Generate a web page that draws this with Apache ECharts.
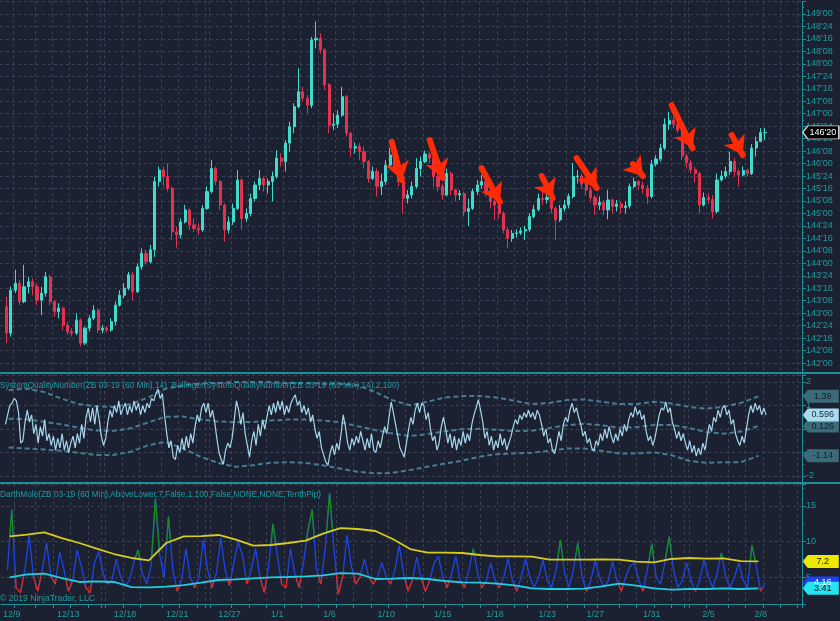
<!DOCTYPE html>
<html><head><meta charset="utf-8">
<script src="https://cdn.jsdelivr.net/npm/echarts@6/dist/echarts.min.js"></script>
<style>html,body{margin:0;padding:0;background:#1c2132;}#c{width:840px;height:621px;}</style>
</head><body><div id="c"></div>
<script>
// ---------- DATA ----------
const CAT_COUNT = 184;        // category slots along the time axis (6-hour bars)
const FIRST_BAR = 1;          // first slot holding a bar
const barOpen = [
143.13,142.60,143.46,143.60,143.23,143.53,143.63,143.53,143.26,143.40,
143.73,143.23,143.03,143.10,142.76,142.63,142.60,142.86,142.40,142.70,
142.90,143.06,142.66,142.70,142.66,142.83,143.16,143.36,143.50,143.77,
143.43,143.93,144.20,144.03,144.27,145.64,145.87,145.74,145.50,144.63,
144.57,144.83,145.07,144.77,144.70,144.67,145.10,145.44,145.90,145.64,
145.17,144.67,144.83,145.10,145.67,144.90,145.00,145.30,145.57,145.70,
145.57,145.64,145.74,146.11,146.04,146.41,146.74,147.14,147.44,147.31,
147.17,148.48,148.51,148.28,147.58,146.77,146.79,146.97,147.34,146.61,
146.31,146.34,146.24,146.04,145.70,145.84,145.54,145.64,145.97,146.17,
145.94,145.64,145.30,145.37,145.54,145.90,146.04,146.19,146.11,145.74,
145.54,145.37,145.80,145.47,145.37,145.40,145.04,145.10,145.44,145.57,
145.64,145.44,145.24,145.17,145.00,144.67,144.50,144.60,144.61,144.65,
144.68,144.94,145.08,145.30,145.28,145.32,145.10,144.87,145.10,145.17,
145.34,145.74,145.75,145.59,145.47,145.32,145.17,145.22,145.07,145.27,
145.14,145.19,145.12,145.15,145.54,145.64,145.57,145.50,145.34,145.99,
146.09,146.31,146.79,146.87,146.79,146.67,146.15,146.02,145.88,145.80,
145.17,145.32,145.28,145.04,145.67,145.75,145.84,146.04,145.84,145.77,
145.86,145.80,146.31,146.44,146.62];
const barClose = [
142.60,143.46,143.60,143.23,143.53,143.63,143.53,143.26,143.40,143.73,
143.23,143.03,143.10,142.76,142.63,142.60,142.86,142.40,142.70,142.90,
143.06,142.66,142.70,142.66,142.83,143.16,143.36,143.50,143.77,143.43,
143.93,144.20,144.03,144.27,145.64,145.87,145.74,145.50,144.63,144.57,
144.83,145.07,144.77,144.70,144.67,145.10,145.44,145.90,145.64,145.17,
144.67,144.83,145.10,145.67,144.90,145.00,145.30,145.57,145.70,145.57,
145.64,145.74,146.11,146.04,146.41,146.74,147.14,147.44,147.31,147.17,
148.48,148.51,148.28,147.58,146.77,146.79,146.97,147.34,146.61,146.31,
146.34,146.24,146.04,145.70,145.84,145.54,145.64,145.97,146.17,145.94,
145.64,145.30,145.37,145.54,145.90,146.04,146.19,146.11,145.74,145.54,
145.37,145.80,145.47,145.37,145.40,145.04,145.10,145.44,145.57,145.64,
145.44,145.24,145.17,145.00,144.67,144.50,144.60,144.61,144.65,144.68,
144.94,145.08,145.30,145.28,145.32,145.10,144.87,145.10,145.17,145.34,
145.74,145.75,145.59,145.47,145.32,145.17,145.22,145.07,145.27,145.14,
145.19,145.12,145.15,145.54,145.64,145.57,145.50,145.34,145.99,146.09,
146.31,146.79,146.87,146.79,146.67,146.15,146.02,145.88,145.80,145.17,
145.32,145.28,145.04,145.67,145.75,145.84,146.04,145.84,145.77,145.86,
145.80,146.31,146.44,146.62,146.625];
const barHigh = [
143.33,143.53,143.87,143.67,143.97,143.73,143.70,143.60,143.53,143.83,
143.77,143.26,143.20,143.13,142.83,142.70,143.00,142.90,142.73,142.96,
143.16,143.10,142.76,142.74,142.90,143.23,143.46,143.60,143.83,143.83,
144.00,144.30,144.27,144.37,145.74,145.94,145.94,146.01,145.54,144.73,
144.90,145.17,145.10,144.90,144.80,145.17,145.54,146.07,145.94,145.67,
145.20,144.94,145.20,145.87,145.70,145.10,145.40,145.64,145.87,145.74,
145.70,145.84,146.27,146.21,146.47,146.84,147.21,147.91,147.54,147.38,
148.54,148.85,148.61,148.31,147.61,147.01,147.07,147.54,147.38,146.63,
146.42,146.41,146.34,146.07,145.94,145.90,145.80,146.07,146.31,146.24,
146.01,145.67,145.47,145.64,146.11,146.14,146.26,146.24,146.14,145.80,
145.60,145.90,145.84,145.50,145.47,145.44,145.30,145.50,145.67,145.77,
145.67,145.47,145.28,145.24,145.04,144.73,144.67,144.68,144.72,144.75,
145.00,145.17,145.40,145.44,145.40,145.37,145.14,145.17,145.27,145.40,
146.01,145.87,145.80,145.64,145.54,145.37,145.34,145.27,145.47,145.30,
145.27,145.24,145.24,145.60,145.72,145.67,145.64,145.57,146.07,146.17,
146.39,146.91,147.04,146.94,146.87,146.71,146.20,146.07,145.94,145.84,
145.42,145.40,145.37,145.80,145.86,145.94,146.24,146.11,145.90,145.94,
145.90,146.39,146.54,146.71,146.71];
const barLow = [
142.40,142.53,143.40,143.16,143.20,143.40,143.36,143.16,142.96,143.33,
143.16,142.93,142.90,142.66,142.56,142.53,142.56,142.33,142.36,142.63,
142.86,142.60,142.60,142.61,142.63,142.76,143.13,143.30,143.46,143.26,
143.40,143.87,143.97,144.00,144.13,145.54,145.54,145.44,144.47,144.30,
144.50,144.80,144.67,144.63,144.57,144.63,145.07,145.40,145.57,145.07,
144.43,144.60,144.77,145.07,144.67,144.83,144.94,145.24,145.47,145.44,
145.40,145.24,145.70,145.94,145.84,146.24,146.61,147.11,147.24,147.01,
147.11,148.31,148.21,147.48,146.61,146.67,146.71,146.94,146.54,146.14,
146.21,146.07,145.90,145.62,145.67,145.34,145.37,145.57,145.90,145.87,
145.54,145.00,145.20,145.30,145.50,145.74,146.01,146.01,145.54,145.44,
145.27,145.34,145.37,145.24,145.27,144.94,144.75,145.07,145.37,145.50,
145.34,145.10,144.87,144.90,144.60,144.30,144.43,144.52,144.57,144.47,
144.63,144.90,145.04,145.17,145.20,145.00,144.47,144.83,145.04,145.10,
145.30,145.60,145.50,145.37,145.24,144.97,145.07,144.97,144.88,145.00,
145.04,145.00,145.00,145.10,145.50,145.47,145.40,145.19,145.30,145.94,
146.04,146.27,146.67,146.71,146.61,146.07,145.90,145.80,145.62,145.00,
145.14,145.19,144.90,145.00,145.64,145.70,145.77,145.74,145.54,145.74,
145.74,145.77,146.14,146.47,146.47];

const dateLabels   = ['12/9','12/13','12/18','12/21','12/27','1/1','1/6','1/10','1/15','1/18','1/23','1/27','1/31','2/5','2/8'];
const dateLabelIdx = [2,15,28,40,52,63,75,88,101,113,125,136,149,162,174];
const dayTickIdx   = [3,8,12,16,20,23,24,28,32,37,41,45,47,48,53,57,61,65,69,73,77,81,85,89,93,97,102,106,110,114,118,121,126,130,134,137,142,146,150,154,157,158,162,167,171,175,179,183];

// red annotation arrows: [barIndex, price] tail and head
const arrowFrom = [[89.4,146.43],[98.1,146.47],[110.0,145.91],[123.8,145.75],[131.8,146.11],[144.7,145.99],[153.6,147.17],[167.4,146.57]];
const arrowTo   = [[91.7,145.67],[101.1,145.71],[114.2,145.23],[126.3,145.31],[136.4,145.51],[147.0,145.75],[158.4,146.31],[169.9,146.17]];

// SystemQualityNumber, two readings per bar, starting at half-slot 2
const OSC_FIRST_HALF = 2;
const sqn = [
0.2,0.6,1.0,1.1,1.3,1.2,0.7,-0.6,-0.5,0.3,0.8,0.3,0.6,-0.2,0.2,-0.6,0.1,-0.3,0.4,-0.5,
-0.2,-0.7,-0.3,-0.9,-0.4,-0.8,-0.2,-0.9,-0.5,-1.0,-0.6,-0.3,-0.8,-0.2,-0.6,0.2,-0.4,0.5,0.9,0.3,
0.9,0.2,1.0,0.4,-0.3,-0.7,-0.4,0.3,0.8,0.5,1.0,0.7,1.2,0.6,0.9,1.1,0.6,1.0,0.7,1.2,
0.8,1.1,0.6,1.0,0.7,1.1,0.9,1.3,1.2,1.5,1.7,1.3,1.5,0.6,-0.2,-0.8,-0.5,-1.2,-1.3,-0.7,
-1.0,-0.4,-0.9,-0.3,-0.8,-0.2,-0.6,0.1,0.6,0.3,0.9,1.1,0.7,1.1,0.5,0.8,0.3,-0.4,-1.0,-1.3,
-1.5,-0.9,-0.6,-0.8,-0.4,0.4,1.2,0.8,0.2,0.7,-0.2,-0.7,-1.2,-0.5,-0.1,-0.7,0.2,-0.3,0.4,0.0,
0.5,1.0,0.6,1.1,0.7,1.2,0.8,1.2,0.6,1.0,0.7,1.1,1.3,1.45,1.0,1.2,0.7,1.0,0.6,0.9,
0.3,0.6,0.0,-0.4,-0.1,-0.8,-1.1,-1.4,-1.55,-1.0,-0.7,-1.1,-0.6,-0.9,-0.2,0.6,0.1,-0.6,-0.9,-0.4,
-0.7,-0.3,-0.6,-0.1,-0.5,-0.9,-0.4,-0.8,-0.2,-0.9,-1.0,-0.5,-0.8,-0.3,0.1,-0.2,0.5,1.15,0.7,0.2,
-0.3,-0.8,-1.0,-1.2,-0.6,0.0,0.5,0.2,0.8,1.1,0.7,1.1,1.0,0.4,0.7,0.0,-0.5,-0.3,-0.9,-0.6,
0.1,0.5,0.0,-0.6,-0.2,-0.8,-0.3,-0.9,-0.4,-0.7,-0.1,-0.6,-0.2,-0.5,0.2,0.6,0.9,1.25,0.8,0.3,
-0.4,-0.1,-0.7,-0.3,-0.9,-0.5,-0.8,-0.2,-0.7,-0.4,-0.9,-0.6,-0.3,0.1,0.4,0.2,0.6,0.4,0.7,0.5,
0.8,0.5,0.7,0.4,0.8,0.6,0.2,-0.3,0.0,-0.6,-0.4,-0.9,-1.05,-0.6,-0.1,-0.5,0.2,0.5,0.3,0.8,
1.1,0.7,0.9,0.5,0.2,-0.3,-0.1,-0.6,-0.4,-0.8,-0.95,-0.5,-0.7,-0.2,-0.5,0.0,-0.4,0.1,-0.3,-0.6,
-0.2,-0.5,0.0,-0.3,0.2,-0.1,0.4,0.7,0.5,0.95,0.6,0.8,0.4,0.6,-0.1,-0.5,-0.3,-0.7,-0.4,0.1,
0.6,0.9,0.8,1.15,0.7,0.9,0.3,0.0,-0.4,-0.1,-0.5,-0.2,-0.6,-0.9,-0.5,-1.0,-0.7,-1.15,-0.8,-1.1,
-0.6,-0.9,-0.3,0.2,-0.1,0.5,0.3,0.8,0.5,0.9,1.0,0.6,0.8,0.2,0.4,-0.2,-0.5,-0.7,-0.3,-0.6,
0.0,0.6,1.0,0.7,1.1,0.8,1.0,0.6,0.9,0.596];

// Bollinger bands of SQN, one reading per day
const bbUpper = [1.65,1.72,1.58,1.30,1.06,0.97,0.94,1.06,1.34,1.72,1.86,1.93,1.96,2.0,2.0,2.0,1.96,1.96,1.93,1.93,1.86,1.58,1.23,1.01,1.16,1.34,1.40,1.40,1.34,1.20,1.06,1.11,1.23,1.26,1.16,1.06,1.06,1.16,1.09,0.94,0.87,0.94,1.11,1.39];
const bbMid   = [0.44,0.42,0.31,0.20,0.06,-0.06,-0.08,0.03,0.28,0.52,0.53,0.41,0.32,0.29,0.30,0.36,0.40,0.40,0.36,0.29,0.12,-0.04,-0.19,-0.30,-0.22,-0.10,-0.01,0.01,-0.03,-0.09,-0.07,0.04,0.16,0.22,0.16,0.06,0.08,0.17,0.17,0.05,-0.13,-0.20,-0.11,0.126];
const bbLower = [-0.79,-0.83,-0.87,-0.93,-1.01,-1.11,-1.11,-0.97,-0.69,-0.55,-0.83,-1.18,-1.44,-1.61,-1.54,-1.44,-1.41,-1.44,-1.54,-1.68,-1.82,-1.89,-1.87,-1.75,-1.61,-1.47,-1.35,-1.18,-1.07,-1.04,-1.01,-0.93,-0.83,-0.83,-0.93,-1.04,-1.04,-0.99,-1.11,-1.35,-1.44,-1.41,-1.41,-1.14];

// DarthMole panel
const moleUpper = [10.73,10.96,11.29,10.49,9.79,8.99,8.24,7.68,7.35,9.79,10.73,10.77,10.92,10.26,9.41,9.51,9.79,10.12,11.10,11.90,11.76,11.48,10.35,8.94,8.43,8.43,8.38,8.10,7.91,7.91,7.86,7.44,7.44,7.44,7.49,7.44,7.16,7.07,7.54,7.68,7.58,7.63,7.25,7.2];
const moleLower = [4.95,5.38,5.47,4.86,4.30,4.39,4.30,3.59,3.54,3.64,3.87,4.20,4.58,4.67,4.81,4.95,5.00,5.09,5.23,5.56,5.47,4.72,4.77,4.86,4.72,4.44,4.25,4.20,4.06,3.83,3.40,3.31,3.31,3.36,3.69,4.06,3.78,3.40,3.22,3.31,3.31,3.40,3.31,3.41];
const moleLine = [
6.0,14.5,3.5,2.8,6.0,10.8,5.0,3.0,6.0,9.8,
5.0,4.0,8.5,6.0,3.0,4.5,8.8,6.5,3.5,2.8,
7.0,8.6,5.5,4.0,4.5,7.5,5.0,3.8,4.5,7.0,
8.8,5.5,4.0,6.5,16.0,8.0,5.0,13.5,6.0,3.0,
4.5,9.0,5.0,3.5,5.0,10.3,6.0,3.5,5.5,10.5,
6.0,3.8,7.0,10.0,8.0,4.0,6.0,9.0,5.0,2.8,
6.5,12.5,8.0,4.0,3.5,9.0,5.5,3.5,7.0,11.5,
14.5,6.0,4.0,9.0,16.8,9.0,2.6,5.0,10.9,6.5,
4.0,5.0,7.5,5.0,4.0,5.0,7.0,5.0,4.0,6.0,
9.5,5.5,3.0,4.5,7.8,5.0,3.0,4.5,7.0,7.9,
5.0,3.5,5.5,7.9,4.5,3.5,6.0,9.0,5.5,3.5,
4.5,7.0,4.5,3.5,5.0,7.6,4.5,3.0,5.0,7.6,
5.0,3.5,5.0,7.4,4.5,3.5,6.0,10.2,5.5,3.5,
6.0,9.8,5.0,3.0,4.5,7.3,5.0,3.5,4.5,7.2,
4.5,3.0,5.0,6.5,7.0,4.5,3.0,6.0,9.7,5.0,
4.0,7.0,10.7,6.0,3.5,4.5,7.0,4.5,3.0,4.5,
7.4,5.0,3.5,5.5,8.4,5.0,3.5,5.0,7.0,4.5,
3.5,9.5,6.5,3.0,4.16];

const lastPrice = 146.625;

// ---------- BUILD ----------
const teal = '#1e9ca0', axisTeal = '#1b9097', gridCol = '#3c4254';
const FONT = 'Liberation Sans, Arial, sans-serif';
function fmt32(v){ let w=Math.floor(v+1e-6); let t=Math.round((v-w)*32); if(t===32){w++;t=0;} return w+"'"+(t<10?'0':'')+t; }

const cats = new Array(CAT_COUNT).fill('');
dateLabelIdx.forEach((k,i)=>{cats[k]=dateLabels[i];});
const labelSet = new Set(dateLabelIdx), tickSet = new Set(dayTickIdx);

const candles = [];
for(let k=0;k<barClose.length;k++){
  const o=barOpen[k], c=barClose[k];
  const h=Math.max(barHigh[k],o,c), l=Math.min(barLow[k],o,c);
  candles[FIRST_BAR+k]=[o,c,l,h];
}
for(let k=0;k<FIRST_BAR;k++) candles[k]=['-','-','-','-'];

const dayX = d => 4*d+1.5;
const daySeries = arr => arr.map((v,d)=>[dayX(d),v]);
const sqnData = sqn.map((v,k)=>[(OSC_FIRST_HALF+k)/2-0.25, v]);
const molePts = moleLine.map((v,k)=>[FIRST_BAR+k, v]);

function interpAt(arr,x){ const t=(x-1.5)/4; if(t<=0) return arr[0]; if(t>=arr.length-1) return arr[arr.length-1]; const d=Math.floor(t), f=t-d; return arr[d]+(arr[d+1]-arr[d])*f; }
function clipLine(pts, thr, above){
  const out=[]; const s=above?1:-1;
  for(let k=0;k<pts.length;k++){
    const [x,v]=pts[k]; const d=(v-interpAt(thr,x))*s;
    if(k>0){ const [px,pv]=pts[k-1]; const pd=(pv-interpAt(thr,px))*s;
      if((pd>0)!==(d>0)){ const f=pd/(pd-d); out.push([px+f*(x-px), pv+f*(v-pv)]); if(!(d>0)) out.push([x,'-']); } }
    if(d>0) out.push([x,v]);
  }
  return out;
}
const greenPart = clipLine(molePts, moleUpper, true);
const redPart = clipLine(molePts, moleLower, false);

const LAST_SLOT = CAT_COUNT-1;
const tagSymbol = 'path://M0,6L6,0L44,0L44,12L6,12Z';
function tag(y, text, bg, fg, border){
  return {coord:[LAST_SLOT,y], name:text, itemStyle:{color:bg, borderColor:border||bg, borderWidth:border?1:0}, label:{color:fg}};
}
function markTags(data){
  return {symbol:tagSymbol, symbolSize:[36,13], symbolOffset:[21,0], symbolKeepAspect:false, silent:true, animation:false,
    label:{show:true, position:'inside', formatter:'{b}', fontSize:9, fontFamily:FONT, offset:[2,0]}, data};
}

const splitX = {show:true, interval:(i)=>tickSet.has(i), lineStyle:{color:gridCol, type:[3,3], width:1}};
const splitY = {show:true, lineStyle:{color:gridCol, type:[3,3], width:1}};
const yCommon = {type:'value', position:'right', scale:false,
  axisLine:{show:true, onZero:false, lineStyle:{color:axisTeal, width:1}},
  axisTick:{show:true, length:4, lineStyle:{color:axisTeal}},
  minorTick:{show:true, splitNumber:2, length:2, lineStyle:{color:axisTeal}},
  axisLabel:{color:teal, fontSize:9, fontFamily:FONT, margin:4, showMinLabel:false, showMaxLabel:false},
  splitLine:splitY};

const option = {
  backgroundColor:'#1c2132',
  animation:false,
  grid:[
    {left:0, right:38, top:1.5, height:374},
    {left:0, right:38, top:373, height:109},
    {left:0, right:38, top:484, height:120}
  ],
  xAxis:[
    {gridIndex:0, type:'category', data:cats, boundaryGap:true, axisLine:{show:false}, axisTick:{show:false}, axisLabel:{show:false}, splitLine:splitX},
    {gridIndex:1, type:'category', data:cats, boundaryGap:true, axisLine:{show:false}, axisTick:{show:false}, axisLabel:{show:false}, splitLine:splitX},
    {gridIndex:1, type:'value', min:-0.5, max:CAT_COUNT-0.5, show:false},
    {gridIndex:2, type:'category', data:cats, boundaryGap:true,
      axisLine:{show:true, onZero:false, lineStyle:{color:axisTeal, width:1}},
      axisTick:{show:true, interval:(i)=>tickSet.has(i), length:4, lineStyle:{color:axisTeal}},
      axisLabel:{show:true, interval:(i)=>labelSet.has(i), color:teal, fontSize:9, fontFamily:FONT, margin:6},
      splitLine:splitX},
    {gridIndex:2, type:'value', min:-0.5, max:CAT_COUNT-0.5, show:false},
    {gridIndex:0, type:'value', min:-0.5, max:CAT_COUNT-0.5, show:false}
  ],
  yAxis:[
    Object.assign({}, yCommon, {gridIndex:0, min:141.75, max:149.25, interval:0.25, axisLabel:Object.assign({}, yCommon.axisLabel, {formatter:fmt32})}),
    Object.assign({}, yCommon, {gridIndex:1, min:-2.255, max:2.383, splitNumber:4}),
    Object.assign({}, yCommon, {gridIndex:2, min:1.2, max:18.1, splitNumber:3})
  ],
  series:[
    {type:'candlestick', xAxisIndex:0, yAxisIndex:0, data:candles, barWidth:2.6,
      itemStyle:{color:'#3fdccb', color0:'#e3324f', borderColor:'#3fdccb', borderColor0:'#e3324f', borderWidth:1},
      markPoint:markTags([tag(lastPrice, fmt32(lastPrice), '#000000', '#ffffff', '#d0d0d0')])},
    {type:'lines', coordinateSystem:'cartesian2d', xAxisIndex:5, yAxisIndex:0, polyline:false, silent:true,
      symbol:['none','arrow'], symbolSize:[16,18],
      lineStyle:{color:'#ff2a06', width:6, opacity:1, cap:'round'},
      data:arrowFrom.map((p,i)=>({coords:[p, arrowTo[i]]})), z:10},
    {type:'line', xAxisIndex:2, yAxisIndex:1, data:daySeries(bbUpper), showSymbol:false, lineStyle:{color:'#4a7b94', width:2, type:[5,3]}},
    {type:'line', xAxisIndex:2, yAxisIndex:1, data:daySeries(bbMid), showSymbol:false, lineStyle:{color:'#4a7b94', width:2, type:[5,3]}},
    {type:'line', xAxisIndex:2, yAxisIndex:1, data:daySeries(bbLower), showSymbol:false, lineStyle:{color:'#4a7b94', width:2, type:[5,3]}},
    {type:'line', xAxisIndex:2, yAxisIndex:1, data:sqnData, showSymbol:false, lineStyle:{color:'#a6d6ec', width:1.2},
      markPoint:markTags([
        tag(bbUpper[bbUpper.length-1], String(bbUpper[bbUpper.length-1]), '#3b6a79', '#142028'),
        tag(bbMid[bbMid.length-1], String(bbMid[bbMid.length-1]), '#3b6a79', '#142028'),
        tag(bbLower[bbLower.length-1], String(bbLower[bbLower.length-1]), '#3b6a79', '#142028'),
        tag(sqn[sqn.length-1], String(sqn[sqn.length-1]), '#a9dbef', '#1a2833')
      ])},
    {type:'line', xAxisIndex:4, yAxisIndex:2, data:molePts, showSymbol:false, lineStyle:{color:'#1f45e6', width:1.3}},
    {type:'line', xAxisIndex:4, yAxisIndex:2, data:redPart, showSymbol:false, lineStyle:{color:'#e8280f', width:1.3}},
    {type:'line', xAxisIndex:4, yAxisIndex:2, data:greenPart, showSymbol:false, lineStyle:{color:'#1a8d1f', width:1.3}},
    {type:'line', xAxisIndex:4, yAxisIndex:2, data:daySeries(moleUpper), showSymbol:false, lineStyle:{color:'#d6cc20', width:1.8}},
    {type:'line', xAxisIndex:4, yAxisIndex:2, data:daySeries(moleLower), showSymbol:false, lineStyle:{color:'#22cde0', width:1.8},
      markPoint:markTags([
        tag(moleUpper[moleUpper.length-1], String(moleUpper[moleUpper.length-1]), '#efe800', '#202020'),
        tag(moleLine[moleLine.length-1], String(moleLine[moleLine.length-1]), '#1f40ef', '#ffffff'),
        tag(moleLower[moleLower.length-1], String(moleLower[moleLower.length-1]), '#24e3f2', '#101010')
      ])}
  ],
  graphic:[
    {type:'line', shape:{x1:0,y1:373,x2:840,y2:373}, style:{stroke:axisTeal, lineWidth:2}, z:50},
    {type:'line', shape:{x1:0,y1:483,x2:840,y2:483}, style:{stroke:axisTeal, lineWidth:2}, z:50},
    {type:'text', left:0, top:382, z:60, style:{text:'SystemQualityNumber(ZB 03-19 (60 Min),14)  Bollinger(SystemQualityNumber(ZB 03-19 (60 Min),14),2,100)', fill:teal, font:'8.3px '+FONT}},
    {type:'text', left:0, top:491, z:60, style:{text:'DarthMole(ZB 03-19 (60 Min),AboveLower,7,False,1,100,False,NONE,NONE,TenthPip)', fill:teal, font:'8.3px '+FONT}},
    {type:'text', left:0, top:594, z:60, style:{text:'\u00a9 2019 NinjaTrader, LLC', fill:teal, font:'8.6px '+FONT}}
  ]
};
const chart = echarts.init(document.getElementById('c'), null, {renderer:'canvas'});
chart.setOption(option);
</script>
</body></html>
